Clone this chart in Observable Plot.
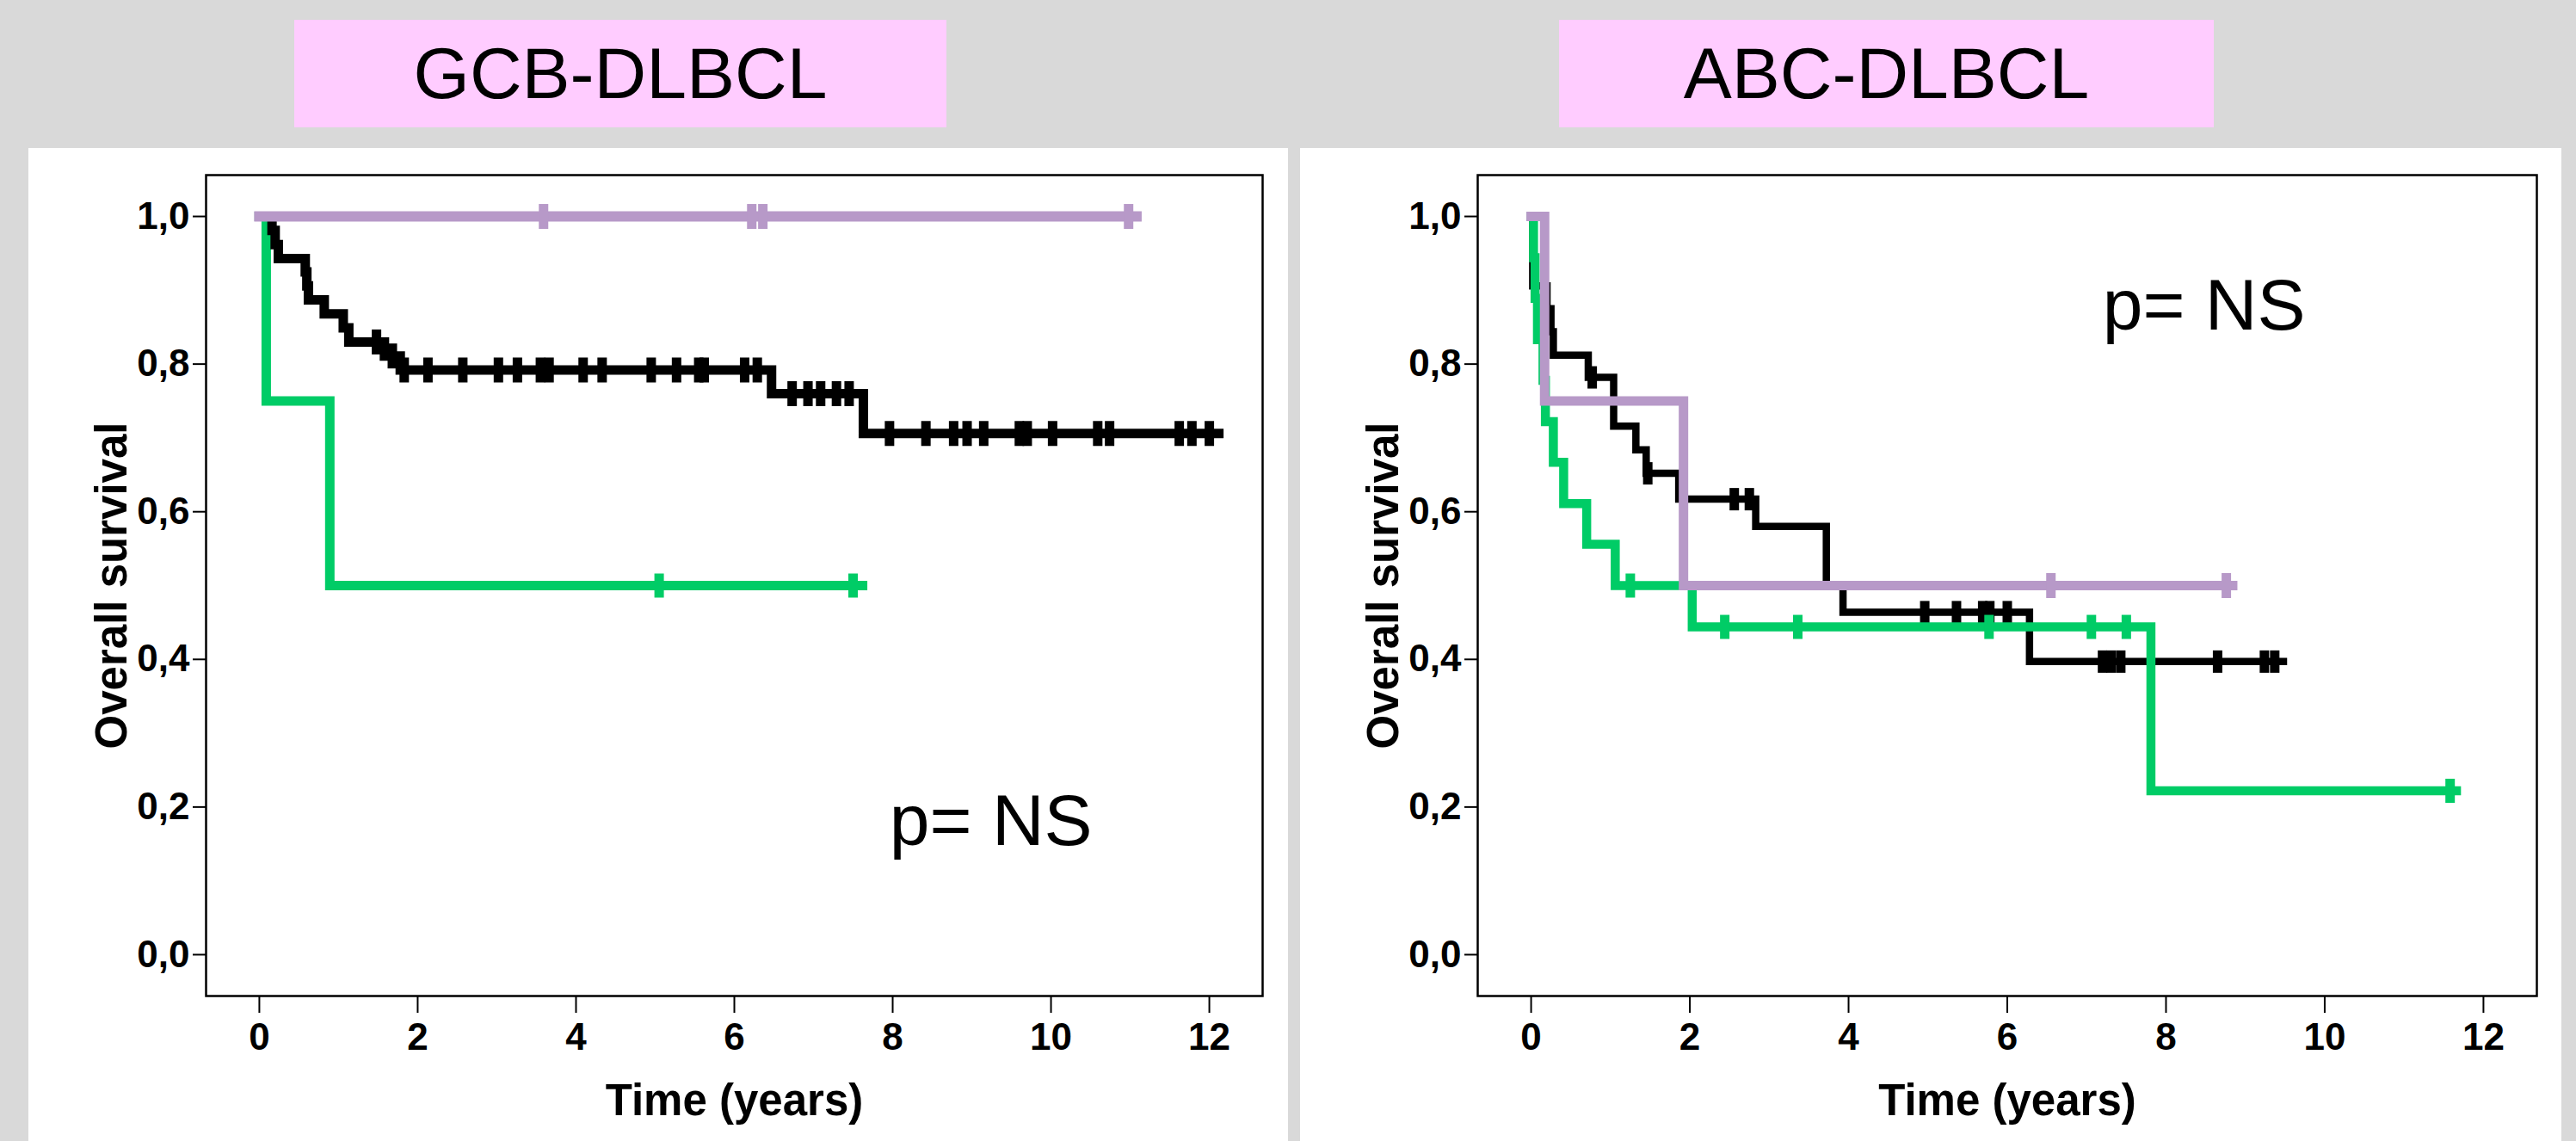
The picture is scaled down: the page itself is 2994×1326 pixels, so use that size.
<!DOCTYPE html>
<html><head><meta charset="utf-8">
<script src="https://cdn.jsdelivr.net/npm/d3@7"></script>
<script src="https://cdn.jsdelivr.net/npm/@observablehq/plot@0.6"></script>
<style>
html,body{margin:0;padding:0;background:#d9d9d9;}
body{width:2994px;height:1326px;position:relative;overflow:hidden;font-family:"Liberation Sans",Arial,sans-serif;}
.title{position:absolute;top:23px;height:125px;background:#ffccff;display:flex;align-items:center;justify-content:center;font-size:84px;color:#000;}
.panel{position:absolute;top:172px;height:1154px;background:#fff;}
.panel svg{display:block;}
</style></head><body>
<div class="title" style="left:342px;width:758px">GCB-DLBCL</div>
<div class="title" style="left:1812px;width:761px">ABC-DLBCL</div>
<div class="panel" id="left" style="left:33px;width:1464px"></div>
<div class="panel" id="right" style="left:1511px;width:1466px"></div>
<script>
// ---- axes ----
const xTicks = [0, 2, 4, 6, 8, 10, 12];
const yTicks = [0, 0.2, 0.4, 0.6, 0.8, 1.0];
const xLabel = "Time (years)";
const yLabel = "Overall survival";
const pLabel = "p= NS";

// ---- GCB-DLBCL ----
const gcbBlackTime = [0, 0.16, 0.20, 0.24, 0.58, 0.60, 0.62, 0.82, 1.06, 1.13, 1.58, 1.78, 6.47, 7.63, 12.12];
const gcbBlackSurv = [1, 0.981, 0.962, 0.943, 0.925, 0.906, 0.887, 0.868, 0.849, 0.830, 0.811, 0.792, 0.760, 0.706, 0.706];
const gcbBlackCensor = [1.48, 1.68, 1.83, 2.13, 2.57, 3.02, 3.26, 3.55, 3.66, 4.09, 4.33, 4.95, 5.27, 5.55, 5.62, 6.13, 6.29, 6.73, 6.93, 7.09, 7.29, 7.45, 7.96, 8.42, 8.77, 8.94, 9.15, 9.60, 9.70, 10.02, 10.59, 10.74, 11.62, 11.78, 12.00];
const gcbGreenTime = [0, 0.087, 0.89, 7.62];
const gcbGreenSurv = [1, 0.75, 0.5, 0.5];
const gcbGreenCensor = [5.05, 7.50];
const gcbPurpleTime = [0, 11.08];
const gcbPurpleSurv = [1, 1];
const gcbPurpleCensor = [3.59, 6.22, 6.36, 10.98];
const gcbNote = [{x: 7.96, y: 0.18}];

// ---- ABC-DLBCL ----
const abcBlackTime = [0, 0.02, 0.20, 0.25, 0.28, 0.72, 1.04, 1.32, 1.45, 1.86, 2.83, 3.72, 3.93, 6.28, 9.48];
const abcBlackSurv = [1, 0.906, 0.875, 0.844, 0.812, 0.782, 0.716, 0.684, 0.652, 0.617, 0.58, 0.50, 0.464, 0.397, 0.397];
const abcBlackCensor = [0.77, 1.47, 2.56, 2.75, 4.96, 5.36, 5.69, 5.78, 6.00, 7.20, 7.31, 7.43, 8.65, 9.24, 9.37];
const abcGreenTime = [0, 0.03, 0.05, 0.08, 0.15, 0.18, 0.28, 0.41, 0.70, 1.06, 2.03, 7.81, 11.66];
const abcGreenSurv = [1, 0.944, 0.889, 0.833, 0.778, 0.722, 0.667, 0.611, 0.556, 0.5, 0.444, 0.222, 0.222];
const abcGreenCensor = [1.25, 2.44, 3.36, 5.77, 7.06, 7.50, 11.58];
const abcPurpleTime = [0, 0.17, 1.92, 8.84];
const abcPurpleSurv = [1, 0.75, 0.5, 0.5];
const abcPurpleCensor = [6.55, 8.76];
const abcNote = [{x: 7.2, y: 0.878}];

const colors = {black: "#000000", green: "#00cc66", purple: "#b799c8"};

function stepValue(times, surv, t) {
  const i = d3.bisectRight(times, t) - 1;
  return surv[Math.max(0, Math.min(i, surv.length - 1))];
}
const km = (times, surv) => times.map((t, i) => ({t, s: surv[i]}));
const cens = (times, surv, c) => c.map(t => ({t, s: stepValue(times, surv, t)}));

function censorSymbol(w, h) {
  return {draw(ctx) {
    ctx.moveTo(-w / 2, -h / 2); ctx.lineTo(w / 2, -h / 2);
    ctx.lineTo(w / 2, h / 2); ctx.lineTo(-w / 2, h / 2); ctx.closePath();
  }};
}

function series(times, surv, c, color, width, tickW, tickH) {
  return [
    Plot.line(km(times, surv), {x: "t", y: "s", curve: "step-after", stroke: color, strokeWidth: width,
      strokeLinejoin: "miter", strokeLinecap: "square", strokeMiterlimit: 4}),
    Plot.dot(cens(times, surv, c), {x: "t", y: "s", symbol: censorSymbol(tickW, tickH), r: 5, fill: color, stroke: "none"})
  ];
}

function chart(width, marginRight, groups, note) {
  return Plot.plot({
    width, height: 1154,
    marginLeft: 206, marginRight, marginTop: 31, marginBottom: 169,
    x: {domain: [-0.673, 12.673]},
    y: {domain: [-0.056, 1.056]},
    style: {fontFamily: "'Liberation Sans', Arial, sans-serif", background: "transparent", color: "#000", overflow: "visible"},
    marks: [
      Plot.axisX({ticks: xTicks, tickSize: 20, tickPadding: 11, label: null, fontSize: 44, fontWeight: "bold", strokeWidth: 2}),
      Plot.axisY({ticks: yTicks, tickSize: 15, tickPadding: 4, label: null, fontSize: 44, fontWeight: "bold", strokeWidth: 2,
        tickFormat: d => d.toFixed(1).replace(".", ",")}),
      Plot.text([xLabel], {text: d => d, frameAnchor: "bottom", lineAnchor: "middle", textAnchor: "middle", dy: 122, fontSize: 51, fontWeight: "bold"}),
      Plot.text([yLabel], {text: d => d, frameAnchor: "left", lineAnchor: "middle", textAnchor: "middle", rotate: -90, dx: -109, fontSize: 51, fontWeight: "bold"}),
      ...groups.flat(),
      Plot.text(note, {x: "x", y: "y", text: () => pLabel, textAnchor: "start", fontSize: 84}),
      Plot.frame({stroke: "#000", strokeWidth: 2.5})
    ]
  });
}

document.getElementById("left").append(chart(1464, 30, [
  series(gcbGreenTime, gcbGreenSurv, gcbGreenCensor, colors.green, 11, 11, 28),
  series(gcbBlackTime, gcbBlackSurv, gcbBlackCensor, colors.black, 11, 11, 29),
  series(gcbPurpleTime, gcbPurpleSurv, gcbPurpleCensor, colors.purple, 12, 11, 29)
], gcbNote));

document.getElementById("right").append(chart(1466, 29, [
  series(abcBlackTime, abcBlackSurv, abcBlackCensor, colors.black, 8.5, 11, 26),
  series(abcGreenTime, abcGreenSurv, abcGreenCensor, colors.green, 10.5, 11, 28),
  series(abcPurpleTime, abcPurpleSurv, abcPurpleCensor, colors.purple, 11, 11, 29)
], abcNote));
</script>
</body></html>
